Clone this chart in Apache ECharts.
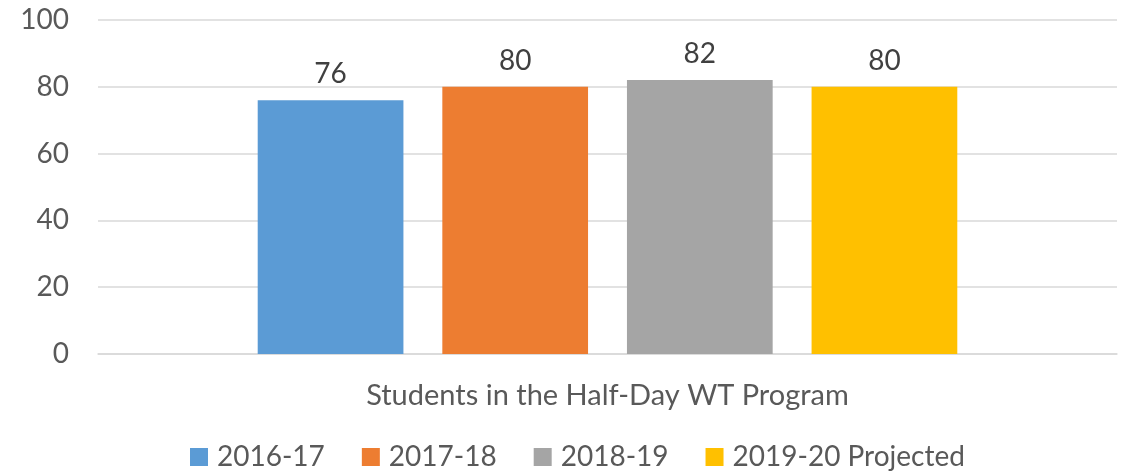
<!DOCTYPE html>
<html>
<head>
<meta charset="utf-8">
<script src="https://cdn.jsdelivr.net/npm/echarts@6/dist/echarts.min.js"></script>
<style>
  html, body { margin: 0; padding: 0; background: #fff; }
  #chart { width: 1122px; height: 472px; }
</style>
</head>
<body>
<div id="chart"></div>
<script>
// ===== 数据 =====
const categories = ['Students in the Half-Day WT Program'];
const seriesNames = ['2016-17', '2017-18', '2018-19', '2019-20 Projected'];
const seriesValues = [[76], [80], [82], [80]];
const seriesColors = ['#5B9BD5', '#ED7D31', '#A5A5A5', '#FFC000'];
const yTicks = { min: 0, max: 100, interval: 20 };

const FONT = 'Lato';
const chart = echarts.init(document.getElementById('chart'));

const option = {
    animation: false,
    textStyle: { fontFamily: FONT },
    grid: { left: 98, right: 5, top: 20, bottom: 118, containLabel: false },
    legend: {
        data: seriesNames,
        top: 443,
        left: 190,
        padding: 0,
        icon: 'rect',
        itemWidth: 18,
        itemHeight: 18,
        itemGap: 37,
        textStyle: { fontSize: 28, color: '#595959', fontFamily: FONT, padding: [0, 0, 0, 4] },
    },
    xAxis: {
        type: 'category',
        data: categories,
        axisTick: { show: false },
        axisLine: { lineStyle: { color: '#D9D9D9', width: 1.5 } },
        axisLabel: { fontSize: 29, color: '#595959', margin: 27 },
    },
    yAxis: {
        type: 'value',
        min: yTicks.min,
        max: yTicks.max,
        interval: yTicks.interval,
        axisLine: { show: false },
        axisTick: { show: false },
        splitLine: { lineStyle: { color: '#D9D9D9', width: 1.5 } },
        axisLabel: { fontSize: 28, color: '#595959', margin: 29 },
    },
    series: seriesNames.map((name, i) => ({
        name: name,
        type: 'bar',
        data: seriesValues[i],
        barWidth: '14.3%',
        barGap: '26.7%',
        itemStyle: { color: seriesColors[i] },
        label: {
            show: true,
            position: 'top',
            distance: 12,
            fontSize: 28,
            color: '#404040',
        },
    })),
};

chart.setOption(option);
</script>
</body>
</html>
